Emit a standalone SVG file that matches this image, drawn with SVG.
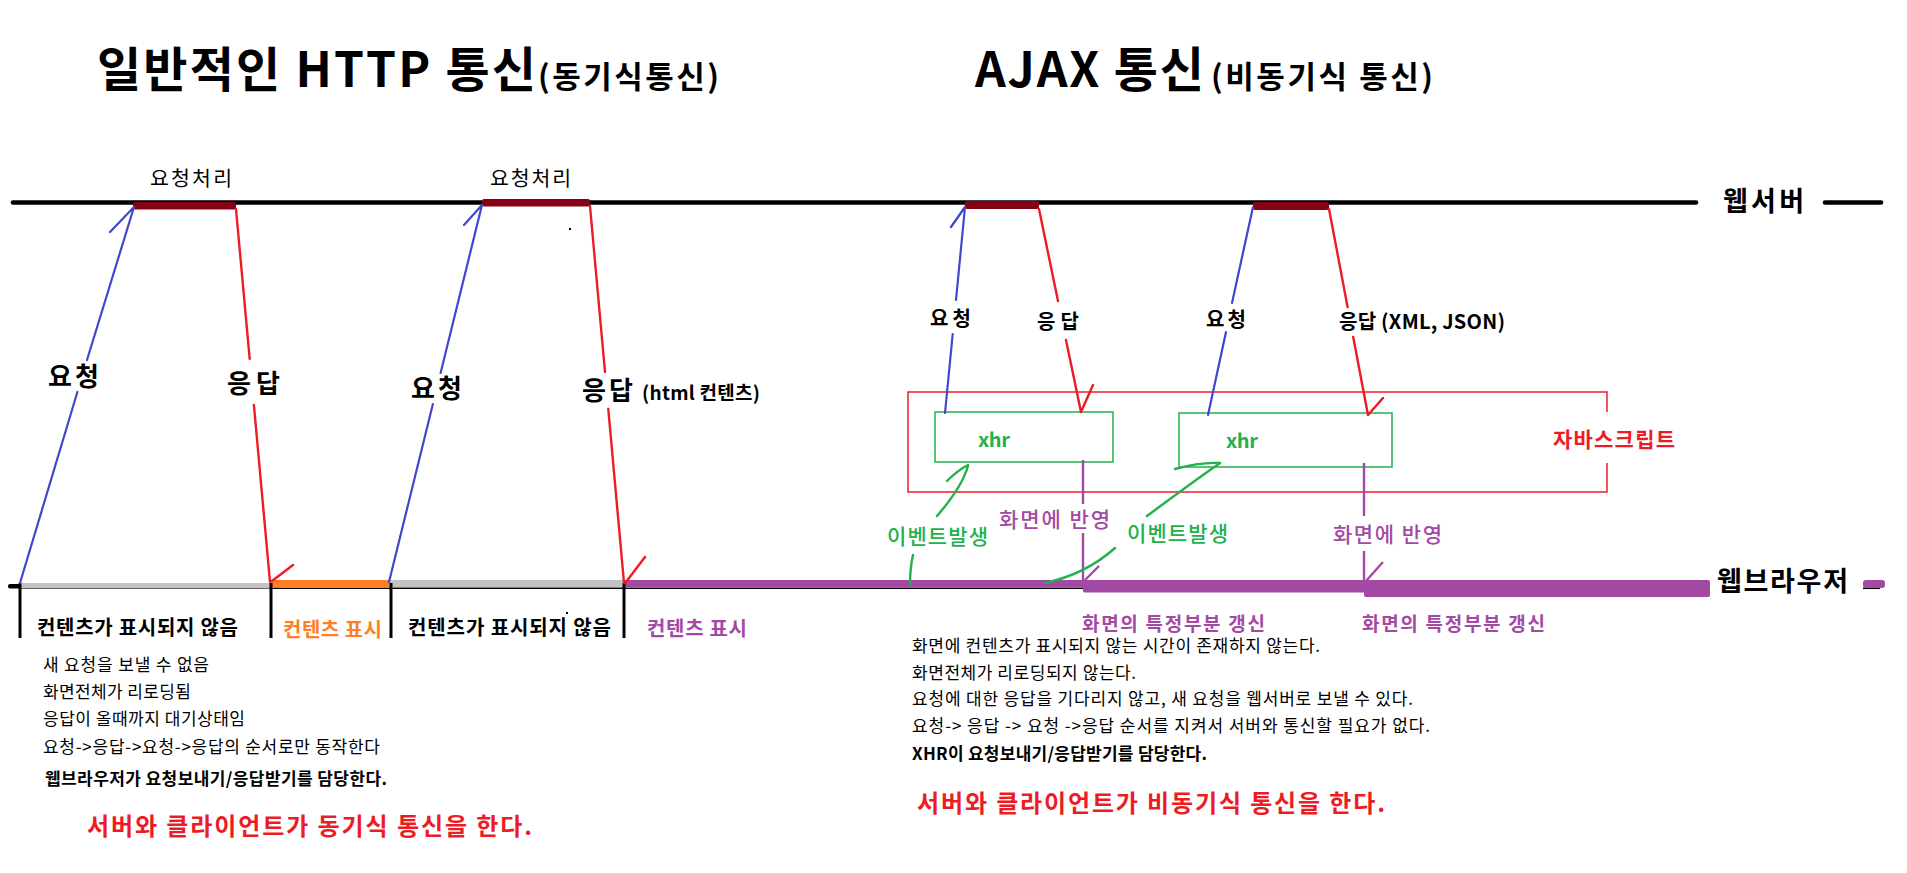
<svg xmlns="http://www.w3.org/2000/svg" width="1907" height="873" viewBox="0 0 1907 873">
<style>
text{font-family:"Noto Sans CJK KR","Malgun Gothic",sans-serif;fill:#000}
.b{font-weight:bold}
.t1{font-size:48px;font-weight:bold}
.t2{font-size:31px;font-weight:bold}
.lab{font-size:26px;font-weight:bold}
.lab2{font-size:20px;font-weight:bold}
.small{font-size:20.5px}
.med{font-size:21px;font-weight:500}
.body{font-size:17px}
.blue{stroke:#3f48cc;stroke-width:2.2;fill:none;stroke-linecap:round}
.red{stroke:#ed1c24;stroke-width:2.4;fill:none;stroke-linecap:round}
.grn{stroke:#22b14c;stroke-width:2.4;fill:none;stroke-linecap:round}
.pur{stroke:#a349a4;stroke-width:2.4;fill:none}
.proc{fill:#880015}
.tick{stroke:#000;stroke-width:3}
.fr{fill:#ed1c24}.fg{fill:#22b14c}.fp{fill:#a349a4}.fo{fill:#ff7f27}
</style>

<g id="titles">
  <text class="t1" x="97" y="87" textLength="439">일반적인 HTTP 통신</text>
  <text class="t2" x="538" y="88" textLength="181">(동기식통신)</text>
  <text class="t1" x="975" y="87" textLength="229">AJAX 통신</text>
  <text class="t2" x="1211" y="88" textLength="222">(비동기식 통신)</text>
</g>

<g id="webserver">
  <line x1="13" y1="202.5" x2="1696" y2="202.5" stroke="#000" stroke-width="4.6" stroke-linecap="round"/>
  <line x1="1825" y1="202.5" x2="1881" y2="202.5" stroke="#000" stroke-width="4.6" stroke-linecap="round"/>
  <text class="b" x="1723" y="211" font-size="27" textLength="81">웹서버</text>
</g>

<g id="process-1">
  <rect class="proc" x="133" y="202" width="103" height="7.5" rx="2"/>
  <text class="small" x="150" y="186" textLength="82">요청처리</text>
</g>
<g id="process-2">
  <rect class="proc" x="482" y="199" width="108" height="7.5" rx="2"/>
  <text class="small" x="490" y="186" textLength="81">요청처리</text>
</g>
<g id="process-3"><rect class="proc" x="965" y="201" width="74" height="8" rx="2"/></g>
<g id="process-4"><rect class="proc" x="1253" y="202" width="76" height="8" rx="2"/></g>

<g id="browser">
  <rect x="8" y="584" width="13" height="4.5" rx="2" fill="#000"/>
  <line x1="20" y1="588.3" x2="1084" y2="588.3" stroke="#000" stroke-width="1.5"/>
  <rect x="20" y="583" width="251" height="5.5" fill="#c3c3c3"/>
  <rect class="fo" x="271" y="580" width="118" height="8"/>
  <rect x="389" y="580" width="235" height="7" fill="#c3c3c3"/>
  <rect class="fp" x="624" y="580" width="460" height="7"/>
  <rect class="fp" x="1083" y="580" width="283" height="12.5" rx="1.5"/>
  <rect class="fp" x="1364" y="580" width="346" height="17" rx="2"/>
  <line x1="1863" y1="588.3" x2="1880" y2="588.3" stroke="#000" stroke-width="1.5"/>
  <rect class="fp" x="1863" y="580" width="22" height="8" rx="3"/>
  <text class="b" x="1717" y="591" font-size="27" textLength="131">웹브라우저</text>
  <line class="tick" x1="20" y1="583" x2="20" y2="638"/>
  <line class="tick" x1="271" y1="583" x2="271" y2="638"/>
  <line class="tick" x1="391" y1="583" x2="391" y2="638"/>
  <line class="tick" x1="624" y1="583" x2="624" y2="638"/>
  <rect x="569" y="228" width="2" height="2" fill="#000"/>
  <rect x="566" y="612" width="2" height="2" fill="#000"/>
</g>

<g id="javascript">
  <path d="M1607,412 V392 H908 V492 H1607 V463" fill="none" stroke="#ed1c24" stroke-width="1.5"/>
  <text class="fr b" x="1553" y="447" font-size="21" textLength="122">자바스크립트</text>
</g>
<g id="xhr-1">
  <rect x="935" y="412" width="178" height="50" fill="none" stroke="#22b14c" stroke-width="1.5"/>
  <text class="fg b" x="978" y="447" font-size="20" textLength="32">xhr</text>
</g>
<g id="xhr-2">
  <rect x="1179" y="413" width="213" height="54" fill="none" stroke="#22b14c" stroke-width="1.5"/>
  <text class="fg b" x="1226" y="448" font-size="20" textLength="32">xhr</text>
</g>

<g id="connectors">
  <path class="blue" d="M20,583 L77.4,392 M87,360 L134,207 M110,232 L134,207"/>
  <path class="red" d="M236,209 L249.7,359 M253.9,405 L270,582 M293,565 L272,581"/>
  <path class="blue" d="M389,582 L432.9,404 M440.6,373 L482,205 M464,225 L482,205"/>
  <path class="red" d="M590,206 L605,372 M608.3,409 L624,583 M645,557 L626,582"/>
  <path class="blue" d="M965,207 L956,300 M952.7,334 L945,413 M951,227 L965,207"/>
  <path class="red" d="M1039,209 L1058,301 M1066,340 L1081,412 M1093,385 L1081,412"/>
  <path class="blue" d="M1253,207 L1232,303 M1226,332 L1208,415"/>
  <path class="red" d="M1329,209 L1347.6,307 M1353.2,337 L1368,415 M1383,398 L1368,415"/>
  <path class="pur" d="M1083,460 V504 M1083,533 V580 M1099,566 L1085,580"/>
  <path class="pur" d="M1364,463 V516 M1364,551 V582 M1383,562 L1366,581"/>
  <path class="grn" d="M913,555 Q910,568 910,585 M937,516 Q962,487 968,466 M947,481 Q958,470 968,465"/>
  <path class="grn" d="M1045,583 Q1086,574 1115,548 M1147,516 Q1190,484 1220,463"/>
  <path class="grn" stroke-width="3.4" d="M1175,469 Q1200,462 1220,463"/>
</g>

<g id="conn-labels">
  <text class="lab" x="48" y="386" textLength="51">요청</text>
  <text class="lab" x="227" y="393" textLength="53">응답</text>
  <text class="lab" x="411" y="398" textLength="51">요청</text>
  <text class="lab" x="582" y="400" textLength="51">응답</text>
  <text class="b" x="642" y="400" font-size="19" textLength="118">(html 컨텐츠)</text>
  <text class="lab2" x="930" y="326" textLength="41">요청</text>
  <text class="lab2" x="1037" y="329" textLength="42">응답</text>
  <text class="lab2" x="1206" y="327" textLength="40">요청</text>
  <text class="lab2" x="1339" y="329" textLength="166">응답 (XML, JSON)</text>
  <text class="fp med" x="999" y="527" textLength="111">화면에 반영</text>
  <text class="fp med" x="1333" y="542" textLength="109">화면에 반영</text>
  <text class="fg med" x="887" y="544" textLength="101">이벤트발생</text>
  <text class="fg med" x="1127" y="541" textLength="101">이벤트발생</text>
  <text class="fp b" x="1082" y="631" font-size="19" textLength="183">화면의 특정부분 갱신</text>
  <text class="fp b" x="1362" y="631" font-size="19" textLength="183">화면의 특정부분 갱신</text>
</g>

<g id="state-labels">
  <text class="b" x="37" y="635" font-size="20" textLength="201">컨텐츠가 표시되지 않음</text>
  <text class="fo b" x="283" y="637" font-size="20" textLength="99">컨텐츠 표시</text>
  <text class="b" x="408" y="635" font-size="20" textLength="203">컨텐츠가 표시되지 않음</text>
  <text class="fp b" x="647" y="636" font-size="20" textLength="100">컨텐츠 표시</text>
</g>

<g id="notes-sync">
  <text class="body" x="43" y="671" textLength="166">새 요청을 보낼 수 없음</text>
  <text class="body" x="43" y="698" textLength="148">화면전체가 리로딩됨</text>
  <text class="body" x="43" y="725" textLength="202">응답이 올때까지 대기상태임</text>
  <text class="body" x="43" y="753" textLength="337">요청-&gt;응답-&gt;요청-&gt;응답의 순서로만 동작한다</text>
  <text class="body" x="45" y="785" font-weight="bold" textLength="342">웹브라우저가 요청보내기/응답받기를 담당한다.</text>
  <text class="fr b" x="87" y="835" font-size="24" textLength="445">서버와 클라이언트가 동기식 통신을 한다.</text>
</g>

<g id="notes-ajax">
  <text class="body" x="912" y="652" textLength="408">화면에 컨텐츠가 표시되지 않는 시간이 존재하지 않는다.</text>
  <text class="body" x="912" y="679" textLength="224">화면전체가 리로딩되지 않는다.</text>
  <text class="body" x="912" y="705" textLength="501">요청에 대한 응답을 기다리지 않고, 새 요청을 웹서버로 보낼 수 있다.</text>
  <text class="body" x="912" y="732" textLength="518">요청-&gt; 응답 -&gt; 요청 -&gt;응답 순서를 지켜서 서버와 통신할 필요가 없다.</text>
  <text class="body" x="912" y="760" font-weight="bold" textLength="295">XHR이 요청보내기/응답받기를 담당한다.</text>
  <text class="fr b" x="917" y="812" font-size="24" textLength="468">서버와 클라이언트가 비동기식 통신을 한다.</text>
</g>
</svg>
